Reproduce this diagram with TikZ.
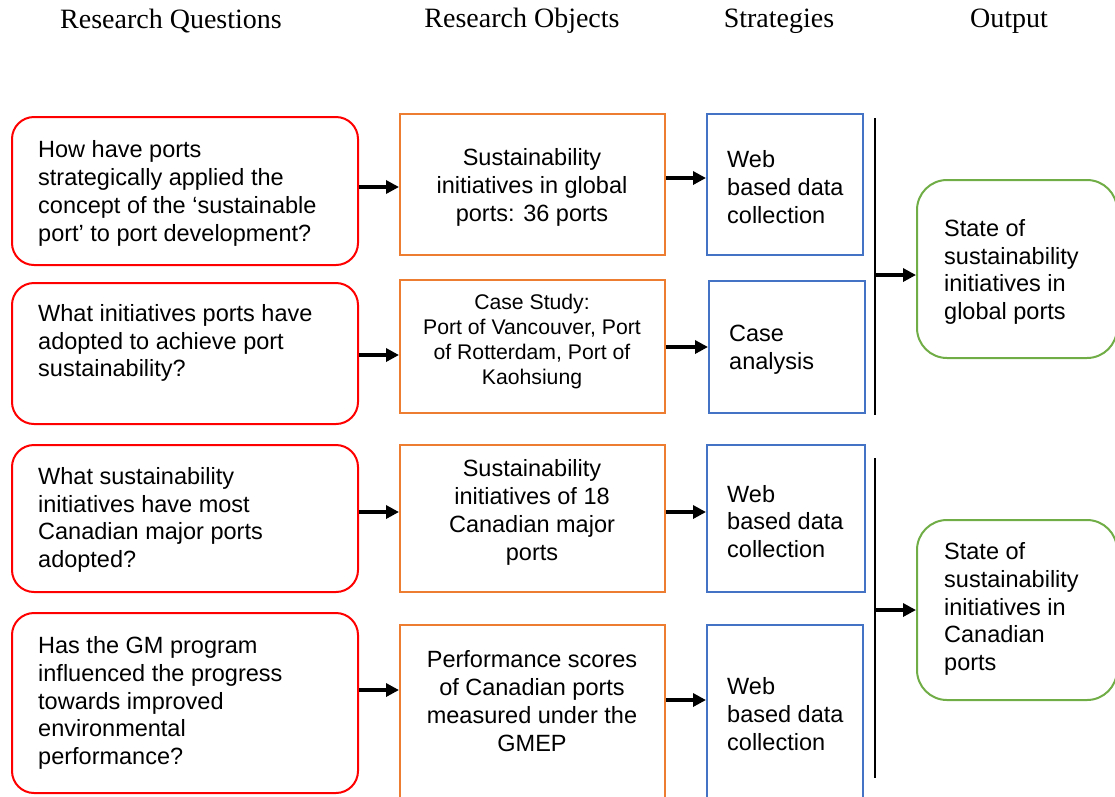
\documentclass[tikz,border=0pt]{standalone}
\usepackage{fontspec}
\setmainfont{Liberation Serif}
\newfontfamily\arial{Liberation Sans}
\usetikzlibrary{arrows.meta}
\definecolor{qred}{HTML}{FF0000}
\definecolor{oorange}{HTML}{ED7D31}
\definecolor{sblue}{HTML}{4472C4}
\definecolor{ogreen}{HTML}{70AD47}
\begin{document}
\begin{tikzpicture}[x=1pt,y=-1pt,
  qbox/.style={draw=qred,line width=2pt,rounded corners=22pt,minimum width=346pt,inner sep=0pt},
  obox/.style={draw=oorange,line width=2pt,minimum width=265pt,inner sep=0pt},
  sbox/.style={draw=sblue,line width=2pt,inner sep=0pt},
  gbox/.style={draw=ogreen,line width=2pt,rounded corners=30pt,minimum width=200pt,inner sep=0pt},
  head/.style={font=\fontsize{28}{32}\selectfont,inner sep=0pt},
  ltxt/.style={font=\arial\fontsize{23.5}{27.8}\selectfont,align=left,anchor=west,inner sep=0pt},
  ctxt/.style={font=\arial\fontsize{23.5}{27.8}\selectfont,align=center,inner sep=0pt},
  arr/.style={line width=3.4pt,-{Triangle[length=13pt,width=13pt]}},
  bar/.style={line width=1.4pt}]
\useasboundingbox (0,0) rectangle (1115,796);
\clip (0,0) rectangle (1115,796);

% column headings
\node[head] (h1) at (171,21) {Research Questions};
\node[head] (h2) at (522,21) {Research Objects};
\node[head] (h3) at (779,21) {Strategies};
\node[head] (h4) at (1009,21) {Output};

% research questions
\node[qbox,minimum height=148pt] (q1) at (185,191) {};
\node[qbox,minimum height=141pt] (q2) at (185,353.5) {};
\node[qbox,minimum height=147pt] (q3) at (185,518.5) {};
\node[qbox,minimum height=180pt] (q4) at (185,703) {};
\node[ltxt] (tq1) at (38,193.5) {How have ports\\strategically applied the\\concept of the ‘sustainable\\port’ to port development?};
\node[ltxt] (tq2) at (38,343) {What initiatives ports have\\adopted to achieve port\\sustainability?};
\node[ltxt] (tq3) at (38,520) {What sustainability\\initiatives have most\\Canadian major ports\\adopted?};
\node[ltxt] (tq4) at (38,703) {Has the GM program\\influenced the progress\\towards improved\\environmental\\performance?};

% research objects
\node[obox,minimum height=141pt] (o1) at (532.5,184.5) {};
\node[obox,minimum height=133pt] (o2) at (532.5,346.5) {};
\node[obox,minimum height=147pt] (o3) at (532.5,518.5) {};
\node[obox,minimum height=185pt] (o4) at (532.5,717.5) {};
\node[ctxt] (to1) at (532,187.5) {Sustainability\\initiatives in global\\ports: 36 ports};
\node[ctxt,font=\arial\fontsize{21.2}{25}\selectfont] (to2) at (532,342) {Case Study:\\Port of Vancouver, Port\\of Rotterdam, Port of\\Kaohsiung};
\node[ctxt] (to3) at (532,512.5) {Sustainability\\initiatives of 18\\Canadian major\\ports};
\node[ctxt] (to4) at (532,701) {Performance scores\\of Canadian ports\\measured under the\\GMEP};

% strategies
\node[sbox,minimum width=156pt,minimum height=141pt] (s1) at (785,184.5) {};
\node[sbox,minimum width=156pt,minimum height=132pt] (s2) at (787,347) {};
\node[sbox,minimum width=158pt,minimum height=147pt] (s3) at (786,518.5) {};
\node[sbox,minimum width=156pt,minimum height=185pt] (s4) at (785,717.5) {};
\node[ltxt] (ts1) at (727,187) {Web\\based data\\collection};
\node[ltxt] (ts2) at (729,349.5) {Case\\analysis};
\node[ltxt] (ts3) at (727,521.5) {Web\\based data\\collection};
\node[ltxt] (ts4) at (727,714) {Web\\based data\\collection};

% outputs
\node[gbox,minimum height=178pt] (g1) at (1017,269) {};
\node[gbox,minimum height=180pt] (g2) at (1017,610) {};
\node[ltxt] (tg1) at (944,272) {State of\\sustainability\\initiatives in\\global ports};
\node[ltxt] (tg2) at (944,609) {State of\\sustainability\\initiatives in\\Canadian\\ports};

% collecting bars
\coordinate (v1t) at (875,118);
\coordinate (v1b) at (875,415);
\coordinate (v2t) at (875,458);
\coordinate (v2b) at (875,778);
\draw[bar] (v1t) -- (v1b);
\draw[bar] (v2t) -- (v2b);

% questions to objects
\draw[arr] (q1.east |- 0,187) -- (o1.west |- 0,187);
\draw[arr] (q2.east |- 0,355) -- (o2.west |- 0,355);
\draw[arr] (q3.east |- 0,512) -- (o3.west |- 0,512);
\draw[arr] (q4.east |- 0,690) -- (o4.west |- 0,690);

% objects to strategies
\draw[arr] (o1.east |- 0,178) -- (s1.west |- 0,178);
\draw[arr] (o2.east |- 0,347) -- (s2.west |- 0,347);
\draw[arr] (o3.east |- 0,512) -- (s3.west |- 0,512);
\draw[arr] (o4.east |- 0,700) -- (s4.west |- 0,700);

% bars to outputs
\draw[arr] (v1t |- 0,275) -- (g1.west |- 0,275);
\draw[arr] (v2t |- 0,610) -- (g2.west |- 0,610);
\end{tikzpicture}
\end{document}
